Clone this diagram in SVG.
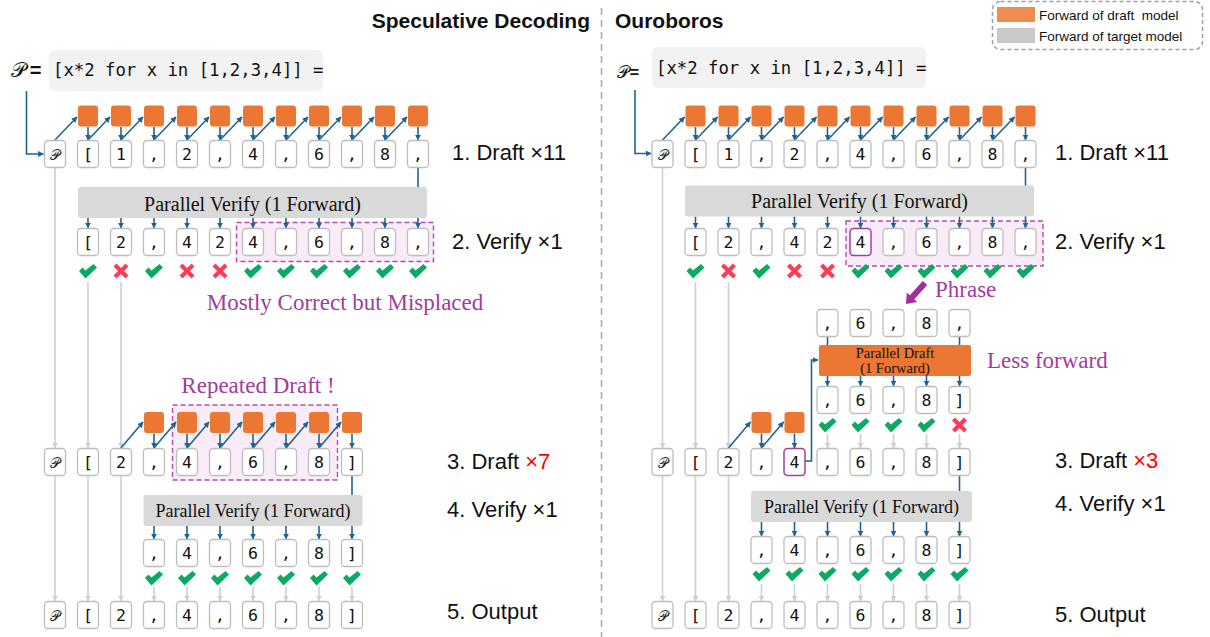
<svg xmlns="http://www.w3.org/2000/svg" xmlns:xlink="http://www.w3.org/1999/xlink" width="1210" height="637" viewBox="0 0 1210 637">
<style>
.tk{fill:#fff;stroke:#BDBDBD;stroke-width:1.3}
.tkp{fill:#fff;stroke:#A63CA6;stroke-width:1.5}
.tt{font-family:"DejaVu Sans Mono",monospace;font-size:16.5px;text-anchor:middle;fill:#111}
.tp{font-family:"DejaVu Serif","DejaVu Sans",serif;font-size:14px;text-anchor:middle;fill:#222}
.os{fill:#EB7733}
.gb{fill:#D9D9D9}
.bt{font-family:"Liberation Serif",serif;text-anchor:middle;fill:#111}
.lab{font-family:"Liberation Sans",Arial,sans-serif;font-size:22px;fill:#111}
.ttl{font-family:"Liberation Sans",Arial,sans-serif;font-size:21px;font-weight:bold;fill:#111}
.pur{font-family:"Liberation Serif",serif;font-size:23px;fill:#A23B9E}
.dr{fill:#F9ECF8;stroke:#B24AB2;stroke-width:1.4;stroke-dasharray:5 3}
.tl{stroke:#1F6391;stroke-width:1.6;fill:none;marker-end:url(#at)}
.tn{stroke:#1F6391;stroke-width:1.6;fill:none}
.gl{stroke:#CFCFCF;stroke-width:1.6;fill:none;marker-end:url(#ag)}
.mono{font-family:"DejaVu Sans Mono",monospace;font-size:17.3px;fill:#111}
</style>
<defs>
<marker id="at" viewBox="0 0 10 10" refX="9" refY="5" markerWidth="6" markerHeight="6" markerUnits="userSpaceOnUse" orient="auto"><path d="M0,0 L10,5 L0,10 z" fill="#1F6391"/></marker>
<marker id="ag" viewBox="0 0 10 10" refX="9" refY="5" markerWidth="6" markerHeight="6" markerUnits="userSpaceOnUse" orient="auto"><path d="M0,0 L10,5 L0,10 z" fill="#CFCFCF"/></marker>
<path id="ck" d="M-9,-1 L-5.5,-4.5 L-2.5,-1.5 L5.5,-8 L9,-4.5 L-2.5,6.5 Z" fill="#0BAA62"/>
<path id="cx" d="M-6,-6 L6,6 M6,-6 L-6,6" stroke="#FF3B58" stroke-width="4.2" fill="none"/>
</defs>

<!-- titles, divider, legend -->
<text class="ttl" x="590" y="28" text-anchor="end">Speculative Decoding</text>
<text class="ttl" x="615" y="28">Ouroboros</text>
<line x1="601.5" y1="8" x2="601.5" y2="637" stroke="#A8A8A8" stroke-width="1.5" stroke-dasharray="7 5"/>
<g id="legend">
<rect x="992.5" y="1.5" width="210" height="48" rx="8" fill="#fff" stroke="#A0A0A0" stroke-width="1.5" stroke-dasharray="4 3"/>
<rect x="997" y="7" width="38" height="15" fill="#F08C4F"/>
<rect x="997" y="28" width="38" height="15" fill="#C9C9C9"/>
<text x="1039" y="19.5" font-family="Liberation Sans, Arial, sans-serif" font-size="13.5" fill="#111" style="white-space:pre">Forward of draft  model</text>
<text x="1039" y="40.5" font-family="Liberation Sans, Arial, sans-serif" font-size="13.5" fill="#111">Forward of target model</text>
</g>

<!-- step labels -->
<text class="lab" x="452" y="160">1. Draft ×11</text>
<text class="lab" x="452" y="249">2. Verify ×1</text>
<text class="lab" x="447" y="469">3. Draft <tspan fill="#FF0000">×7</tspan></text>
<text class="lab" x="447" y="517">4. Verify ×1</text>
<text class="lab" x="447" y="619">5. Output</text>
<text class="lab" x="1055" y="160">1. Draft ×11</text>
<text class="lab" x="1055" y="249">2. Verify ×1</text>
<text class="lab" x="1055" y="468">3. Draft <tspan fill="#FF0000">×3</tspan></text>
<text class="lab" x="1055" y="511">4. Verify ×1</text>
<text class="lab" x="1055" y="622">5. Output</text>

<!-- dashed highlight regions -->
<rect class="dr" x="236.5" y="222.5" width="197" height="39"/>
<rect class="dr" x="846" y="221" width="197" height="45"/>
<rect class="dr" x="172.5" y="405" width="165" height="75"/>

<!-- annotations -->
<text class="pur" x="345" y="310" text-anchor="middle">Mostly Correct but Misplaced</text>
<text class="pur" x="258" y="393" text-anchor="middle">Repeated Draft !</text>
<text class="pur" x="935" y="297">Phrase</text>
<text class="pur" x="987" y="368">Less forward</text>
<polygon points="927.2,285 914.3,299.3 917.2,302 906,304 906.8,292.6 909.8,295.3 922.8,281" fill="#A0309A"/>

<!-- prompts -->
<g id="sd-prompt">
<rect x="49" y="50" width="274" height="41" rx="6" fill="#F2F2F2"/>
<text x="18" y="77" font-family="DejaVu Serif, serif" font-size="21" text-anchor="middle" fill="#111">&#x1D4AB;</text>
<text x="35.5" y="77" font-family="Liberation Sans, Arial, sans-serif" font-size="20" font-weight="bold" text-anchor="middle" fill="#111">=</text>
<text class="mono" x="53" y="76">[x*2 for x in [1,2,3,4]] =</text>
</g>
<g id="ob-prompt">
<rect x="652" y="47" width="274" height="41" rx="6" fill="#F2F2F2"/>
<text x="622.5" y="78" font-family="DejaVu Serif, serif" font-size="17" text-anchor="middle" fill="#111">&#x1D4AB;</text>
<text x="634.5" y="78" font-family="Liberation Sans, Arial, sans-serif" font-size="16" font-weight="bold" text-anchor="middle" fill="#111">=</text>
<text class="mono" x="656" y="73.5">[x*2 for x in [1,2,3,4]] =</text>
</g>

<g id="connectors">
<!-- left row 1 -->
<path class="tl" d="M26.5,91 V154 H43.5"/>
<line class="tl" x1="55" y1="140" x2="77" y2="117"/>
<line class="tl" x1="88" y1="140" x2="110" y2="117"/>
<line class="tl" x1="121" y1="140" x2="143" y2="117"/>
<line class="tl" x1="154" y1="140" x2="176" y2="117"/>
<line class="tl" x1="187" y1="140" x2="209" y2="117"/>
<line class="tl" x1="220" y1="140" x2="242" y2="117"/>
<line class="tl" x1="253" y1="140" x2="275" y2="117"/>
<line class="tl" x1="286" y1="140" x2="308" y2="117"/>
<line class="tl" x1="319" y1="140" x2="341" y2="117"/>
<line class="tl" x1="352" y1="140" x2="374" y2="117"/>
<line class="tl" x1="385" y1="140" x2="407" y2="117"/>
<line class="tl" x1="88" y1="127" x2="88" y2="140"/>
<line class="tl" x1="121" y1="127" x2="121" y2="140"/>
<line class="tl" x1="154" y1="127" x2="154" y2="140"/>
<line class="tl" x1="187" y1="127" x2="187" y2="140"/>
<line class="tl" x1="220" y1="127" x2="220" y2="140"/>
<line class="tl" x1="253" y1="127" x2="253" y2="140"/>
<line class="tl" x1="286" y1="127" x2="286" y2="140"/>
<line class="tl" x1="319" y1="127" x2="319" y2="140"/>
<line class="tl" x1="352" y1="127" x2="352" y2="140"/>
<line class="tl" x1="385" y1="127" x2="385" y2="140"/>
<line class="tl" x1="418" y1="127" x2="418" y2="140"/>
<line class="tl" x1="418" y1="167.5" x2="418" y2="228"/>
<!-- left verify arrows -->
<line class="tl" x1="88" y1="218" x2="88" y2="228"/>
<line class="tl" x1="121" y1="218" x2="121" y2="228"/>
<line class="tl" x1="154" y1="218" x2="154" y2="228"/>
<line class="tl" x1="187" y1="218" x2="187" y2="228"/>
<line class="tl" x1="220" y1="218" x2="220" y2="228"/>
<line class="tl" x1="253" y1="218" x2="253" y2="228"/>
<line class="tl" x1="286" y1="218" x2="286" y2="228"/>
<line class="tl" x1="319" y1="218" x2="319" y2="228"/>
<line class="tl" x1="352" y1="218" x2="352" y2="228"/>
<line class="tl" x1="385" y1="218" x2="385" y2="228"/>
<!-- left gray to row 3 -->
<line class="gl" x1="55" y1="167.5" x2="55" y2="448"/>
<line class="gl" x1="88" y1="282" x2="88" y2="448"/>
<line class="gl" x1="121" y1="282" x2="121" y2="448"/>
<!-- left row 3 drafting -->
<line class="tl" x1="121" y1="448" x2="143" y2="422"/>
<line class="tl" x1="154" y1="448" x2="176" y2="422"/>
<line class="tl" x1="187" y1="448" x2="209" y2="422"/>
<line class="tl" x1="220" y1="448" x2="242" y2="422"/>
<line class="tl" x1="253" y1="448" x2="275" y2="422"/>
<line class="tl" x1="286" y1="448" x2="308" y2="422"/>
<line class="tl" x1="319" y1="448" x2="341" y2="422"/>
<line class="tl" x1="154" y1="433.5" x2="154" y2="448"/>
<line class="tl" x1="187" y1="433.5" x2="187" y2="448"/>
<line class="tl" x1="220" y1="433.5" x2="220" y2="448"/>
<line class="tl" x1="253" y1="433.5" x2="253" y2="448"/>
<line class="tl" x1="286" y1="433.5" x2="286" y2="448"/>
<line class="tl" x1="319" y1="433.5" x2="319" y2="448"/>
<line class="tl" x1="352" y1="433.5" x2="352" y2="448"/>
<line class="tl" x1="352" y1="475.5" x2="352" y2="539"/>
<!-- left row 4 arrows -->
<line class="tl" x1="154" y1="526" x2="154" y2="539"/>
<line class="tl" x1="187" y1="526" x2="187" y2="539"/>
<line class="tl" x1="220" y1="526" x2="220" y2="539"/>
<line class="tl" x1="253" y1="526" x2="253" y2="539"/>
<line class="tl" x1="286" y1="526" x2="286" y2="539"/>
<line class="tl" x1="319" y1="526" x2="319" y2="539"/>
<!-- left gray to row 5 -->
<line class="gl" x1="55" y1="475.5" x2="55" y2="601"/>
<line class="gl" x1="88" y1="475.5" x2="88" y2="601"/>
<line class="gl" x1="121" y1="475.5" x2="121" y2="601"/>
<line class="gl" x1="154" y1="587" x2="154" y2="601"/>
<line class="gl" x1="187" y1="587" x2="187" y2="601"/>
<line class="gl" x1="220" y1="587" x2="220" y2="601"/>
<line class="gl" x1="253" y1="587" x2="253" y2="601"/>
<line class="gl" x1="286" y1="587" x2="286" y2="601"/>
<line class="gl" x1="319" y1="587" x2="319" y2="601"/>
<line class="gl" x1="352" y1="587" x2="352" y2="601"/>

<!-- right row 1 -->
<path class="tl" d="M635,90 V153.5 H651"/>
<line class="tl" x1="662.5" y1="140" x2="684.5" y2="117"/>
<line class="tl" x1="695.5" y1="140" x2="717.5" y2="117"/>
<line class="tl" x1="728.5" y1="140" x2="750.5" y2="117"/>
<line class="tl" x1="761.5" y1="140" x2="783.5" y2="117"/>
<line class="tl" x1="794.5" y1="140" x2="816.5" y2="117"/>
<line class="tl" x1="827.5" y1="140" x2="849.5" y2="117"/>
<line class="tl" x1="860.5" y1="140" x2="882.5" y2="117"/>
<line class="tl" x1="893.5" y1="140" x2="915.5" y2="117"/>
<line class="tl" x1="926.5" y1="140" x2="948.5" y2="117"/>
<line class="tl" x1="959.5" y1="140" x2="981.5" y2="117"/>
<line class="tl" x1="992.5" y1="140" x2="1014.5" y2="117"/>
<line class="tl" x1="695.5" y1="127" x2="695.5" y2="140"/>
<line class="tl" x1="728.5" y1="127" x2="728.5" y2="140"/>
<line class="tl" x1="761.5" y1="127" x2="761.5" y2="140"/>
<line class="tl" x1="794.5" y1="127" x2="794.5" y2="140"/>
<line class="tl" x1="827.5" y1="127" x2="827.5" y2="140"/>
<line class="tl" x1="860.5" y1="127" x2="860.5" y2="140"/>
<line class="tl" x1="893.5" y1="127" x2="893.5" y2="140"/>
<line class="tl" x1="926.5" y1="127" x2="926.5" y2="140"/>
<line class="tl" x1="959.5" y1="127" x2="959.5" y2="140"/>
<line class="tl" x1="992.5" y1="127" x2="992.5" y2="140"/>
<line class="tl" x1="1025.5" y1="127" x2="1025.5" y2="140"/>
<line class="tl" x1="1025.5" y1="167.5" x2="1025.5" y2="228"/>
<!-- right verify arrows -->
<line class="tl" x1="695.5" y1="216.5" x2="695.5" y2="228"/>
<line class="tl" x1="728.5" y1="216.5" x2="728.5" y2="228"/>
<line class="tl" x1="761.5" y1="216.5" x2="761.5" y2="228"/>
<line class="tl" x1="794.5" y1="216.5" x2="794.5" y2="228"/>
<line class="tl" x1="827.5" y1="216.5" x2="827.5" y2="228"/>
<line class="tl" x1="860.5" y1="216.5" x2="860.5" y2="228"/>
<line class="tl" x1="893.5" y1="216.5" x2="893.5" y2="228"/>
<line class="tl" x1="926.5" y1="216.5" x2="926.5" y2="228"/>
<line class="tl" x1="959.5" y1="216.5" x2="959.5" y2="228"/>
<line class="tl" x1="992.5" y1="216.5" x2="992.5" y2="228"/>
<!-- right gray to row 3 -->
<line class="gl" x1="662.5" y1="167.5" x2="662.5" y2="448"/>
<line class="gl" x1="695.5" y1="282" x2="695.5" y2="448"/>
<line class="gl" x1="728.5" y1="282" x2="728.5" y2="448"/>
<!-- right phrase / parallel draft -->
<line class="tn" x1="827.5" y1="336" x2="827.5" y2="346"/>
<line class="tn" x1="959.5" y1="336" x2="959.5" y2="346"/>
<line class="tl" x1="827.5" y1="376" x2="827.5" y2="386"/>
<line class="tl" x1="860.5" y1="376" x2="860.5" y2="386"/>
<line class="tl" x1="893.5" y1="376" x2="893.5" y2="386"/>
<line class="tl" x1="926.5" y1="376" x2="926.5" y2="386"/>
<line class="tl" x1="959.5" y1="376" x2="959.5" y2="386"/>
<line class="gl" x1="827.5" y1="434" x2="827.5" y2="448"/>
<line class="gl" x1="860.5" y1="434" x2="860.5" y2="448"/>
<line class="gl" x1="893.5" y1="434" x2="893.5" y2="448"/>
<line class="gl" x1="926.5" y1="434" x2="926.5" y2="448"/>
<line class="gl" x1="959.5" y1="434" x2="959.5" y2="448"/>
<path class="tl" d="M805,461 H811.5 V360 H818"/>
<!-- right row 3 drafting -->
<line class="tl" x1="728.5" y1="448" x2="750.5" y2="422"/>
<line class="tl" x1="761.5" y1="448" x2="783.5" y2="422"/>
<line class="tl" x1="761.5" y1="433.5" x2="761.5" y2="448"/>
<line class="tl" x1="794.5" y1="433.5" x2="794.5" y2="448"/>
<line class="tl" x1="959.5" y1="475.5" x2="959.5" y2="536"/>
<!-- right row 4 arrows -->
<line class="tl" x1="761.5" y1="522" x2="761.5" y2="536"/>
<line class="tl" x1="794.5" y1="522" x2="794.5" y2="536"/>
<line class="tl" x1="827.5" y1="522" x2="827.5" y2="536"/>
<line class="tl" x1="860.5" y1="522" x2="860.5" y2="536"/>
<line class="tl" x1="893.5" y1="522" x2="893.5" y2="536"/>
<line class="tl" x1="926.5" y1="522" x2="926.5" y2="536"/>
<!-- right gray to row 5 -->
<line class="gl" x1="662.5" y1="475.5" x2="662.5" y2="601"/>
<line class="gl" x1="695.5" y1="475.5" x2="695.5" y2="601"/>
<line class="gl" x1="728.5" y1="475.5" x2="728.5" y2="601"/>
<line class="gl" x1="761.5" y1="584" x2="761.5" y2="601"/>
<line class="gl" x1="794.5" y1="584" x2="794.5" y2="601"/>
<line class="gl" x1="827.5" y1="584" x2="827.5" y2="601"/>
<line class="gl" x1="860.5" y1="584" x2="860.5" y2="601"/>
<line class="gl" x1="893.5" y1="584" x2="893.5" y2="601"/>
<line class="gl" x1="926.5" y1="584" x2="926.5" y2="601"/>
<line class="gl" x1="959.5" y1="584" x2="959.5" y2="601"/>
</g>

<!-- ===== left panel nodes ===== -->
<g id="sd-draft-r1">
<rect class="os" x="78" y="105.5" width="20" height="21" rx="3"/>
<rect class="os" x="111" y="105.5" width="20" height="21" rx="3"/>
<rect class="os" x="144" y="105.5" width="20" height="21" rx="3"/>
<rect class="os" x="177" y="105.5" width="20" height="21" rx="3"/>
<rect class="os" x="210" y="105.5" width="20" height="21" rx="3"/>
<rect class="os" x="243" y="105.5" width="20" height="21" rx="3"/>
<rect class="os" x="276" y="105.5" width="20" height="21" rx="3"/>
<rect class="os" x="309" y="105.5" width="20" height="21" rx="3"/>
<rect class="os" x="342" y="105.5" width="20" height="21" rx="3"/>
<rect class="os" x="375" y="105.5" width="20" height="21" rx="3"/>
<rect class="os" x="408" y="105.5" width="20" height="21" rx="3"/>
</g>
<g id="sd-r1">
<rect class="tk" x="44.5" y="140.5" width="21" height="27" rx="3.5"/><text class="tp" x="55" y="159.5">&#x1D4AB;</text>
<rect class="tk" x="77.5" y="140.5" width="21" height="27" rx="3.5"/><text class="tt" x="88" y="160">[</text>
<rect class="tk" x="110.5" y="140.5" width="21" height="27" rx="3.5"/><text class="tt" x="121" y="160">1</text>
<rect class="tk" x="143.5" y="140.5" width="21" height="27" rx="3.5"/><text class="tt" x="154" y="160">,</text>
<rect class="tk" x="176.5" y="140.5" width="21" height="27" rx="3.5"/><text class="tt" x="187" y="160">2</text>
<rect class="tk" x="209.5" y="140.5" width="21" height="27" rx="3.5"/><text class="tt" x="220" y="160">,</text>
<rect class="tk" x="242.5" y="140.5" width="21" height="27" rx="3.5"/><text class="tt" x="253" y="160">4</text>
<rect class="tk" x="275.5" y="140.5" width="21" height="27" rx="3.5"/><text class="tt" x="286" y="160">,</text>
<rect class="tk" x="308.5" y="140.5" width="21" height="27" rx="3.5"/><text class="tt" x="319" y="160">6</text>
<rect class="tk" x="341.5" y="140.5" width="21" height="27" rx="3.5"/><text class="tt" x="352" y="160">,</text>
<rect class="tk" x="374.5" y="140.5" width="21" height="27" rx="3.5"/><text class="tt" x="385" y="160">8</text>
<rect class="tk" x="407.5" y="140.5" width="21" height="27" rx="3.5"/><text class="tt" x="418" y="160">,</text>
</g>
<g id="sd-verify1">
<rect class="gb" x="78" y="187" width="349" height="31" rx="3"/>
<text class="bt" x="252.5" y="210.5" font-size="20">Parallel Verify (1 Forward)</text>
</g>
<g id="sd-r2">
<rect class="tk" x="77.5" y="228.5" width="21" height="27" rx="3.5"/><text class="tt" x="88" y="248">[</text>
<rect class="tk" x="110.5" y="228.5" width="21" height="27" rx="3.5"/><text class="tt" x="121" y="248">2</text>
<rect class="tk" x="143.5" y="228.5" width="21" height="27" rx="3.5"/><text class="tt" x="154" y="248">,</text>
<rect class="tk" x="176.5" y="228.5" width="21" height="27" rx="3.5"/><text class="tt" x="187" y="248">4</text>
<rect class="tk" x="209.5" y="228.5" width="21" height="27" rx="3.5"/><text class="tt" x="220" y="248">2</text>
<rect class="tk" x="242.5" y="228.5" width="21" height="27" rx="3.5"/><text class="tt" x="253" y="248">4</text>
<rect class="tk" x="275.5" y="228.5" width="21" height="27" rx="3.5"/><text class="tt" x="286" y="248">,</text>
<rect class="tk" x="308.5" y="228.5" width="21" height="27" rx="3.5"/><text class="tt" x="319" y="248">6</text>
<rect class="tk" x="341.5" y="228.5" width="21" height="27" rx="3.5"/><text class="tt" x="352" y="248">,</text>
<rect class="tk" x="374.5" y="228.5" width="21" height="27" rx="3.5"/><text class="tt" x="385" y="248">8</text>
<rect class="tk" x="407.5" y="228.5" width="21" height="27" rx="3.5"/><text class="tt" x="418" y="248">,</text>
</g>
<g id="sd-marks2">
<use href="#ck" x="88" y="272"/><use href="#cx" x="121" y="271"/><use href="#ck" x="154" y="272"/><use href="#cx" x="187" y="271"/><use href="#cx" x="220" y="271"/>
<use href="#ck" x="253" y="272"/><use href="#ck" x="286" y="272"/><use href="#ck" x="319" y="272"/><use href="#ck" x="352" y="272"/><use href="#ck" x="385" y="272"/><use href="#ck" x="418" y="272"/>
</g>
<g id="sd-draft-r3">
<rect class="os" x="144" y="412" width="20" height="21" rx="3"/>
<rect class="os" x="177" y="412" width="20" height="21" rx="3"/>
<rect class="os" x="210" y="412" width="20" height="21" rx="3"/>
<rect class="os" x="243" y="412" width="20" height="21" rx="3"/>
<rect class="os" x="276" y="412" width="20" height="21" rx="3"/>
<rect class="os" x="309" y="412" width="20" height="21" rx="3"/>
<rect class="os" x="342" y="412" width="20" height="21" rx="3"/>
</g>
<g id="sd-r3">
<rect class="tk" x="44.5" y="448.5" width="21" height="27" rx="3.5"/><text class="tp" x="55" y="467.5">&#x1D4AB;</text>
<rect class="tk" x="77.5" y="448.5" width="21" height="27" rx="3.5"/><text class="tt" x="88" y="468">[</text>
<rect class="tk" x="110.5" y="448.5" width="21" height="27" rx="3.5"/><text class="tt" x="121" y="468">2</text>
<rect class="tk" x="143.5" y="448.5" width="21" height="27" rx="3.5"/><text class="tt" x="154" y="468">,</text>
<rect class="tk" x="176.5" y="448.5" width="21" height="27" rx="3.5"/><text class="tt" x="187" y="468">4</text>
<rect class="tk" x="209.5" y="448.5" width="21" height="27" rx="3.5"/><text class="tt" x="220" y="468">,</text>
<rect class="tk" x="242.5" y="448.5" width="21" height="27" rx="3.5"/><text class="tt" x="253" y="468">6</text>
<rect class="tk" x="275.5" y="448.5" width="21" height="27" rx="3.5"/><text class="tt" x="286" y="468">,</text>
<rect class="tk" x="308.5" y="448.5" width="21" height="27" rx="3.5"/><text class="tt" x="319" y="468">8</text>
<rect class="tk" x="341.5" y="448.5" width="21" height="27" rx="3.5"/><text class="tt" x="352" y="468">]</text>
</g>
<g id="sd-verify2">
<rect class="gb" x="143.5" y="495" width="219" height="31" rx="3"/>
<text class="bt" x="253" y="517" font-size="18">Parallel Verify (1 Forward)</text>
</g>
<g id="sd-r4">
<rect class="tk" x="143.5" y="539.5" width="21" height="27" rx="3.5"/><text class="tt" x="154" y="559">,</text>
<rect class="tk" x="176.5" y="539.5" width="21" height="27" rx="3.5"/><text class="tt" x="187" y="559">4</text>
<rect class="tk" x="209.5" y="539.5" width="21" height="27" rx="3.5"/><text class="tt" x="220" y="559">,</text>
<rect class="tk" x="242.5" y="539.5" width="21" height="27" rx="3.5"/><text class="tt" x="253" y="559">6</text>
<rect class="tk" x="275.5" y="539.5" width="21" height="27" rx="3.5"/><text class="tt" x="286" y="559">,</text>
<rect class="tk" x="308.5" y="539.5" width="21" height="27" rx="3.5"/><text class="tt" x="319" y="559">8</text>
<rect class="tk" x="341.5" y="539.5" width="21" height="27" rx="3.5"/><text class="tt" x="352" y="559">]</text>
</g>
<g id="sd-marks4">
<use href="#ck" x="154" y="579"/><use href="#ck" x="187" y="579"/><use href="#ck" x="220" y="579"/><use href="#ck" x="253" y="579"/><use href="#ck" x="286" y="579"/><use href="#ck" x="319" y="579"/><use href="#ck" x="352" y="579"/>
</g>
<g id="sd-r5">
<rect class="tk" x="44.5" y="601.5" width="21" height="27" rx="3.5"/><text class="tp" x="55" y="620.5">&#x1D4AB;</text>
<rect class="tk" x="77.5" y="601.5" width="21" height="27" rx="3.5"/><text class="tt" x="88" y="621">[</text>
<rect class="tk" x="110.5" y="601.5" width="21" height="27" rx="3.5"/><text class="tt" x="121" y="621">2</text>
<rect class="tk" x="143.5" y="601.5" width="21" height="27" rx="3.5"/><text class="tt" x="154" y="621">,</text>
<rect class="tk" x="176.5" y="601.5" width="21" height="27" rx="3.5"/><text class="tt" x="187" y="621">4</text>
<rect class="tk" x="209.5" y="601.5" width="21" height="27" rx="3.5"/><text class="tt" x="220" y="621">,</text>
<rect class="tk" x="242.5" y="601.5" width="21" height="27" rx="3.5"/><text class="tt" x="253" y="621">6</text>
<rect class="tk" x="275.5" y="601.5" width="21" height="27" rx="3.5"/><text class="tt" x="286" y="621">,</text>
<rect class="tk" x="308.5" y="601.5" width="21" height="27" rx="3.5"/><text class="tt" x="319" y="621">8</text>
<rect class="tk" x="341.5" y="601.5" width="21" height="27" rx="3.5"/><text class="tt" x="352" y="621">]</text>
</g>

<!-- ===== right panel nodes ===== -->
<g id="ob-draft-r1">
<rect class="os" x="685.5" y="105.5" width="20" height="21" rx="3"/>
<rect class="os" x="718.5" y="105.5" width="20" height="21" rx="3"/>
<rect class="os" x="751.5" y="105.5" width="20" height="21" rx="3"/>
<rect class="os" x="784.5" y="105.5" width="20" height="21" rx="3"/>
<rect class="os" x="817.5" y="105.5" width="20" height="21" rx="3"/>
<rect class="os" x="850.5" y="105.5" width="20" height="21" rx="3"/>
<rect class="os" x="883.5" y="105.5" width="20" height="21" rx="3"/>
<rect class="os" x="916.5" y="105.5" width="20" height="21" rx="3"/>
<rect class="os" x="949.5" y="105.5" width="20" height="21" rx="3"/>
<rect class="os" x="982.5" y="105.5" width="20" height="21" rx="3"/>
<rect class="os" x="1015.5" y="105.5" width="20" height="21" rx="3"/>
</g>
<g id="ob-r1">
<rect class="tk" x="652" y="140.5" width="21" height="27" rx="3.5"/><text class="tp" x="662.5" y="159.5">&#x1D4AB;</text>
<rect class="tk" x="685" y="140.5" width="21" height="27" rx="3.5"/><text class="tt" x="695.5" y="160">[</text>
<rect class="tk" x="718" y="140.5" width="21" height="27" rx="3.5"/><text class="tt" x="728.5" y="160">1</text>
<rect class="tk" x="751" y="140.5" width="21" height="27" rx="3.5"/><text class="tt" x="761.5" y="160">,</text>
<rect class="tk" x="784" y="140.5" width="21" height="27" rx="3.5"/><text class="tt" x="794.5" y="160">2</text>
<rect class="tk" x="817" y="140.5" width="21" height="27" rx="3.5"/><text class="tt" x="827.5" y="160">,</text>
<rect class="tk" x="850" y="140.5" width="21" height="27" rx="3.5"/><text class="tt" x="860.5" y="160">4</text>
<rect class="tk" x="883" y="140.5" width="21" height="27" rx="3.5"/><text class="tt" x="893.5" y="160">,</text>
<rect class="tk" x="916" y="140.5" width="21" height="27" rx="3.5"/><text class="tt" x="926.5" y="160">6</text>
<rect class="tk" x="949" y="140.5" width="21" height="27" rx="3.5"/><text class="tt" x="959.5" y="160">,</text>
<rect class="tk" x="982" y="140.5" width="21" height="27" rx="3.5"/><text class="tt" x="992.5" y="160">8</text>
<rect class="tk" x="1015" y="140.5" width="21" height="27" rx="3.5"/><text class="tt" x="1025.5" y="160">,</text>
</g>
<g id="ob-verify1">
<rect class="gb" x="685" y="185.5" width="349" height="31" rx="3"/>
<text class="bt" x="859.5" y="208" font-size="20">Parallel Verify (1 Forward)</text>
</g>
<g id="ob-r2">
<rect class="tk" x="685" y="228.5" width="21" height="27" rx="3.5"/><text class="tt" x="695.5" y="248">[</text>
<rect class="tk" x="718" y="228.5" width="21" height="27" rx="3.5"/><text class="tt" x="728.5" y="248">2</text>
<rect class="tk" x="751" y="228.5" width="21" height="27" rx="3.5"/><text class="tt" x="761.5" y="248">,</text>
<rect class="tk" x="784" y="228.5" width="21" height="27" rx="3.5"/><text class="tt" x="794.5" y="248">4</text>
<rect class="tk" x="817" y="228.5" width="21" height="27" rx="3.5"/><text class="tt" x="827.5" y="248">2</text>
<rect class="tkp" x="850" y="228.5" width="21" height="27" rx="3.5"/><text class="tt" x="860.5" y="248">4</text>
<rect class="tk" x="883" y="228.5" width="21" height="27" rx="3.5"/><text class="tt" x="893.5" y="248">,</text>
<rect class="tk" x="916" y="228.5" width="21" height="27" rx="3.5"/><text class="tt" x="926.5" y="248">6</text>
<rect class="tk" x="949" y="228.5" width="21" height="27" rx="3.5"/><text class="tt" x="959.5" y="248">,</text>
<rect class="tk" x="982" y="228.5" width="21" height="27" rx="3.5"/><text class="tt" x="992.5" y="248">8</text>
<rect class="tk" x="1015" y="228.5" width="21" height="27" rx="3.5"/><text class="tt" x="1025.5" y="248">,</text>
</g>
<g id="ob-marks2">
<use href="#ck" x="695.5" y="272"/><use href="#cx" x="728.5" y="271"/><use href="#ck" x="761.5" y="272"/><use href="#cx" x="794.5" y="271"/><use href="#cx" x="827.5" y="271"/>
<use href="#ck" x="860.5" y="272"/><use href="#ck" x="893.5" y="272"/><use href="#ck" x="926.5" y="272"/><use href="#ck" x="959.5" y="272"/><use href="#ck" x="992.5" y="272"/><use href="#ck" x="1025.5" y="272"/>
</g>
<g id="ob-phrase">
<rect class="tk" x="817" y="309.5" width="21" height="27" rx="3.5"/><text class="tt" x="827.5" y="329">,</text>
<rect class="tk" x="850" y="309.5" width="21" height="27" rx="3.5"/><text class="tt" x="860.5" y="329">6</text>
<rect class="tk" x="883" y="309.5" width="21" height="27" rx="3.5"/><text class="tt" x="893.5" y="329">,</text>
<rect class="tk" x="916" y="309.5" width="21" height="27" rx="3.5"/><text class="tt" x="926.5" y="329">8</text>
<rect class="tk" x="949" y="309.5" width="21" height="27" rx="3.5"/><text class="tt" x="959.5" y="329">,</text>
</g>
<g id="ob-pdraft">
<rect x="819" y="345" width="152" height="31" rx="2" fill="#EB7733"/>
<text class="bt" x="895" y="358" font-size="14.5">Parallel Draft</text>
<text class="bt" x="895" y="373" font-size="14.5">(1 Forward)</text>
</g>
<g id="ob-pout">
<rect class="tk" x="817" y="386.5" width="21" height="27" rx="3.5"/><text class="tt" x="827.5" y="406">,</text>
<rect class="tk" x="850" y="386.5" width="21" height="27" rx="3.5"/><text class="tt" x="860.5" y="406">6</text>
<rect class="tk" x="883" y="386.5" width="21" height="27" rx="3.5"/><text class="tt" x="893.5" y="406">,</text>
<rect class="tk" x="916" y="386.5" width="21" height="27" rx="3.5"/><text class="tt" x="926.5" y="406">8</text>
<rect class="tk" x="949" y="386.5" width="21" height="27" rx="3.5"/><text class="tt" x="959.5" y="406">]</text>
</g>
<g id="ob-marksp">
<use href="#ck" x="827.5" y="426"/><use href="#ck" x="860.5" y="426"/><use href="#ck" x="893.5" y="426"/><use href="#ck" x="926.5" y="426"/><use href="#cx" x="959.5" y="425"/>
</g>
<g id="ob-draft-r3">
<rect class="os" x="751.5" y="412" width="20" height="21" rx="3"/>
<rect class="os" x="784.5" y="412" width="20" height="21" rx="3"/>
</g>
<g id="ob-r3">
<rect class="tk" x="652" y="448.5" width="21" height="27" rx="3.5"/><text class="tp" x="662.5" y="467.5">&#x1D4AB;</text>
<rect class="tk" x="685" y="448.5" width="21" height="27" rx="3.5"/><text class="tt" x="695.5" y="468">[</text>
<rect class="tk" x="718" y="448.5" width="21" height="27" rx="3.5"/><text class="tt" x="728.5" y="468">2</text>
<rect class="tk" x="751" y="448.5" width="21" height="27" rx="3.5"/><text class="tt" x="761.5" y="468">,</text>
<rect class="tkp" x="784" y="448.5" width="21" height="27" rx="3.5"/><text class="tt" x="794.5" y="468">4</text>
<rect class="tk" x="817" y="448.5" width="21" height="27" rx="3.5"/><text class="tt" x="827.5" y="468">,</text>
<rect class="tk" x="850" y="448.5" width="21" height="27" rx="3.5"/><text class="tt" x="860.5" y="468">6</text>
<rect class="tk" x="883" y="448.5" width="21" height="27" rx="3.5"/><text class="tt" x="893.5" y="468">,</text>
<rect class="tk" x="916" y="448.5" width="21" height="27" rx="3.5"/><text class="tt" x="926.5" y="468">8</text>
<rect class="tk" x="949" y="448.5" width="21" height="27" rx="3.5"/><text class="tt" x="959.5" y="468">]</text>
</g>
<g id="ob-verify2">
<rect class="gb" x="751" y="491" width="221" height="31" rx="3"/>
<text class="bt" x="861.5" y="513" font-size="18">Parallel Verify (1 Forward)</text>
</g>
<g id="ob-r4">
<rect class="tk" x="751" y="536.5" width="21" height="27" rx="3.5"/><text class="tt" x="761.5" y="556">,</text>
<rect class="tk" x="784" y="536.5" width="21" height="27" rx="3.5"/><text class="tt" x="794.5" y="556">4</text>
<rect class="tk" x="817" y="536.5" width="21" height="27" rx="3.5"/><text class="tt" x="827.5" y="556">,</text>
<rect class="tk" x="850" y="536.5" width="21" height="27" rx="3.5"/><text class="tt" x="860.5" y="556">6</text>
<rect class="tk" x="883" y="536.5" width="21" height="27" rx="3.5"/><text class="tt" x="893.5" y="556">,</text>
<rect class="tk" x="916" y="536.5" width="21" height="27" rx="3.5"/><text class="tt" x="926.5" y="556">8</text>
<rect class="tk" x="949" y="536.5" width="21" height="27" rx="3.5"/><text class="tt" x="959.5" y="556">]</text>
</g>
<g id="ob-marks4">
<use href="#ck" x="761.5" y="575"/><use href="#ck" x="794.5" y="575"/><use href="#ck" x="827.5" y="575"/><use href="#ck" x="860.5" y="575"/><use href="#ck" x="893.5" y="575"/><use href="#ck" x="926.5" y="575"/><use href="#ck" x="959.5" y="575"/>
</g>
<g id="ob-r5">
<rect class="tk" x="652" y="601.5" width="21" height="27" rx="3.5"/><text class="tp" x="662.5" y="620.5">&#x1D4AB;</text>
<rect class="tk" x="685" y="601.5" width="21" height="27" rx="3.5"/><text class="tt" x="695.5" y="621">[</text>
<rect class="tk" x="718" y="601.5" width="21" height="27" rx="3.5"/><text class="tt" x="728.5" y="621">2</text>
<rect class="tk" x="751" y="601.5" width="21" height="27" rx="3.5"/><text class="tt" x="761.5" y="621">,</text>
<rect class="tk" x="784" y="601.5" width="21" height="27" rx="3.5"/><text class="tt" x="794.5" y="621">4</text>
<rect class="tk" x="817" y="601.5" width="21" height="27" rx="3.5"/><text class="tt" x="827.5" y="621">,</text>
<rect class="tk" x="850" y="601.5" width="21" height="27" rx="3.5"/><text class="tt" x="860.5" y="621">6</text>
<rect class="tk" x="883" y="601.5" width="21" height="27" rx="3.5"/><text class="tt" x="893.5" y="621">,</text>
<rect class="tk" x="916" y="601.5" width="21" height="27" rx="3.5"/><text class="tt" x="926.5" y="621">8</text>
<rect class="tk" x="949" y="601.5" width="21" height="27" rx="3.5"/><text class="tt" x="959.5" y="621">]</text>
</g>
</svg>
